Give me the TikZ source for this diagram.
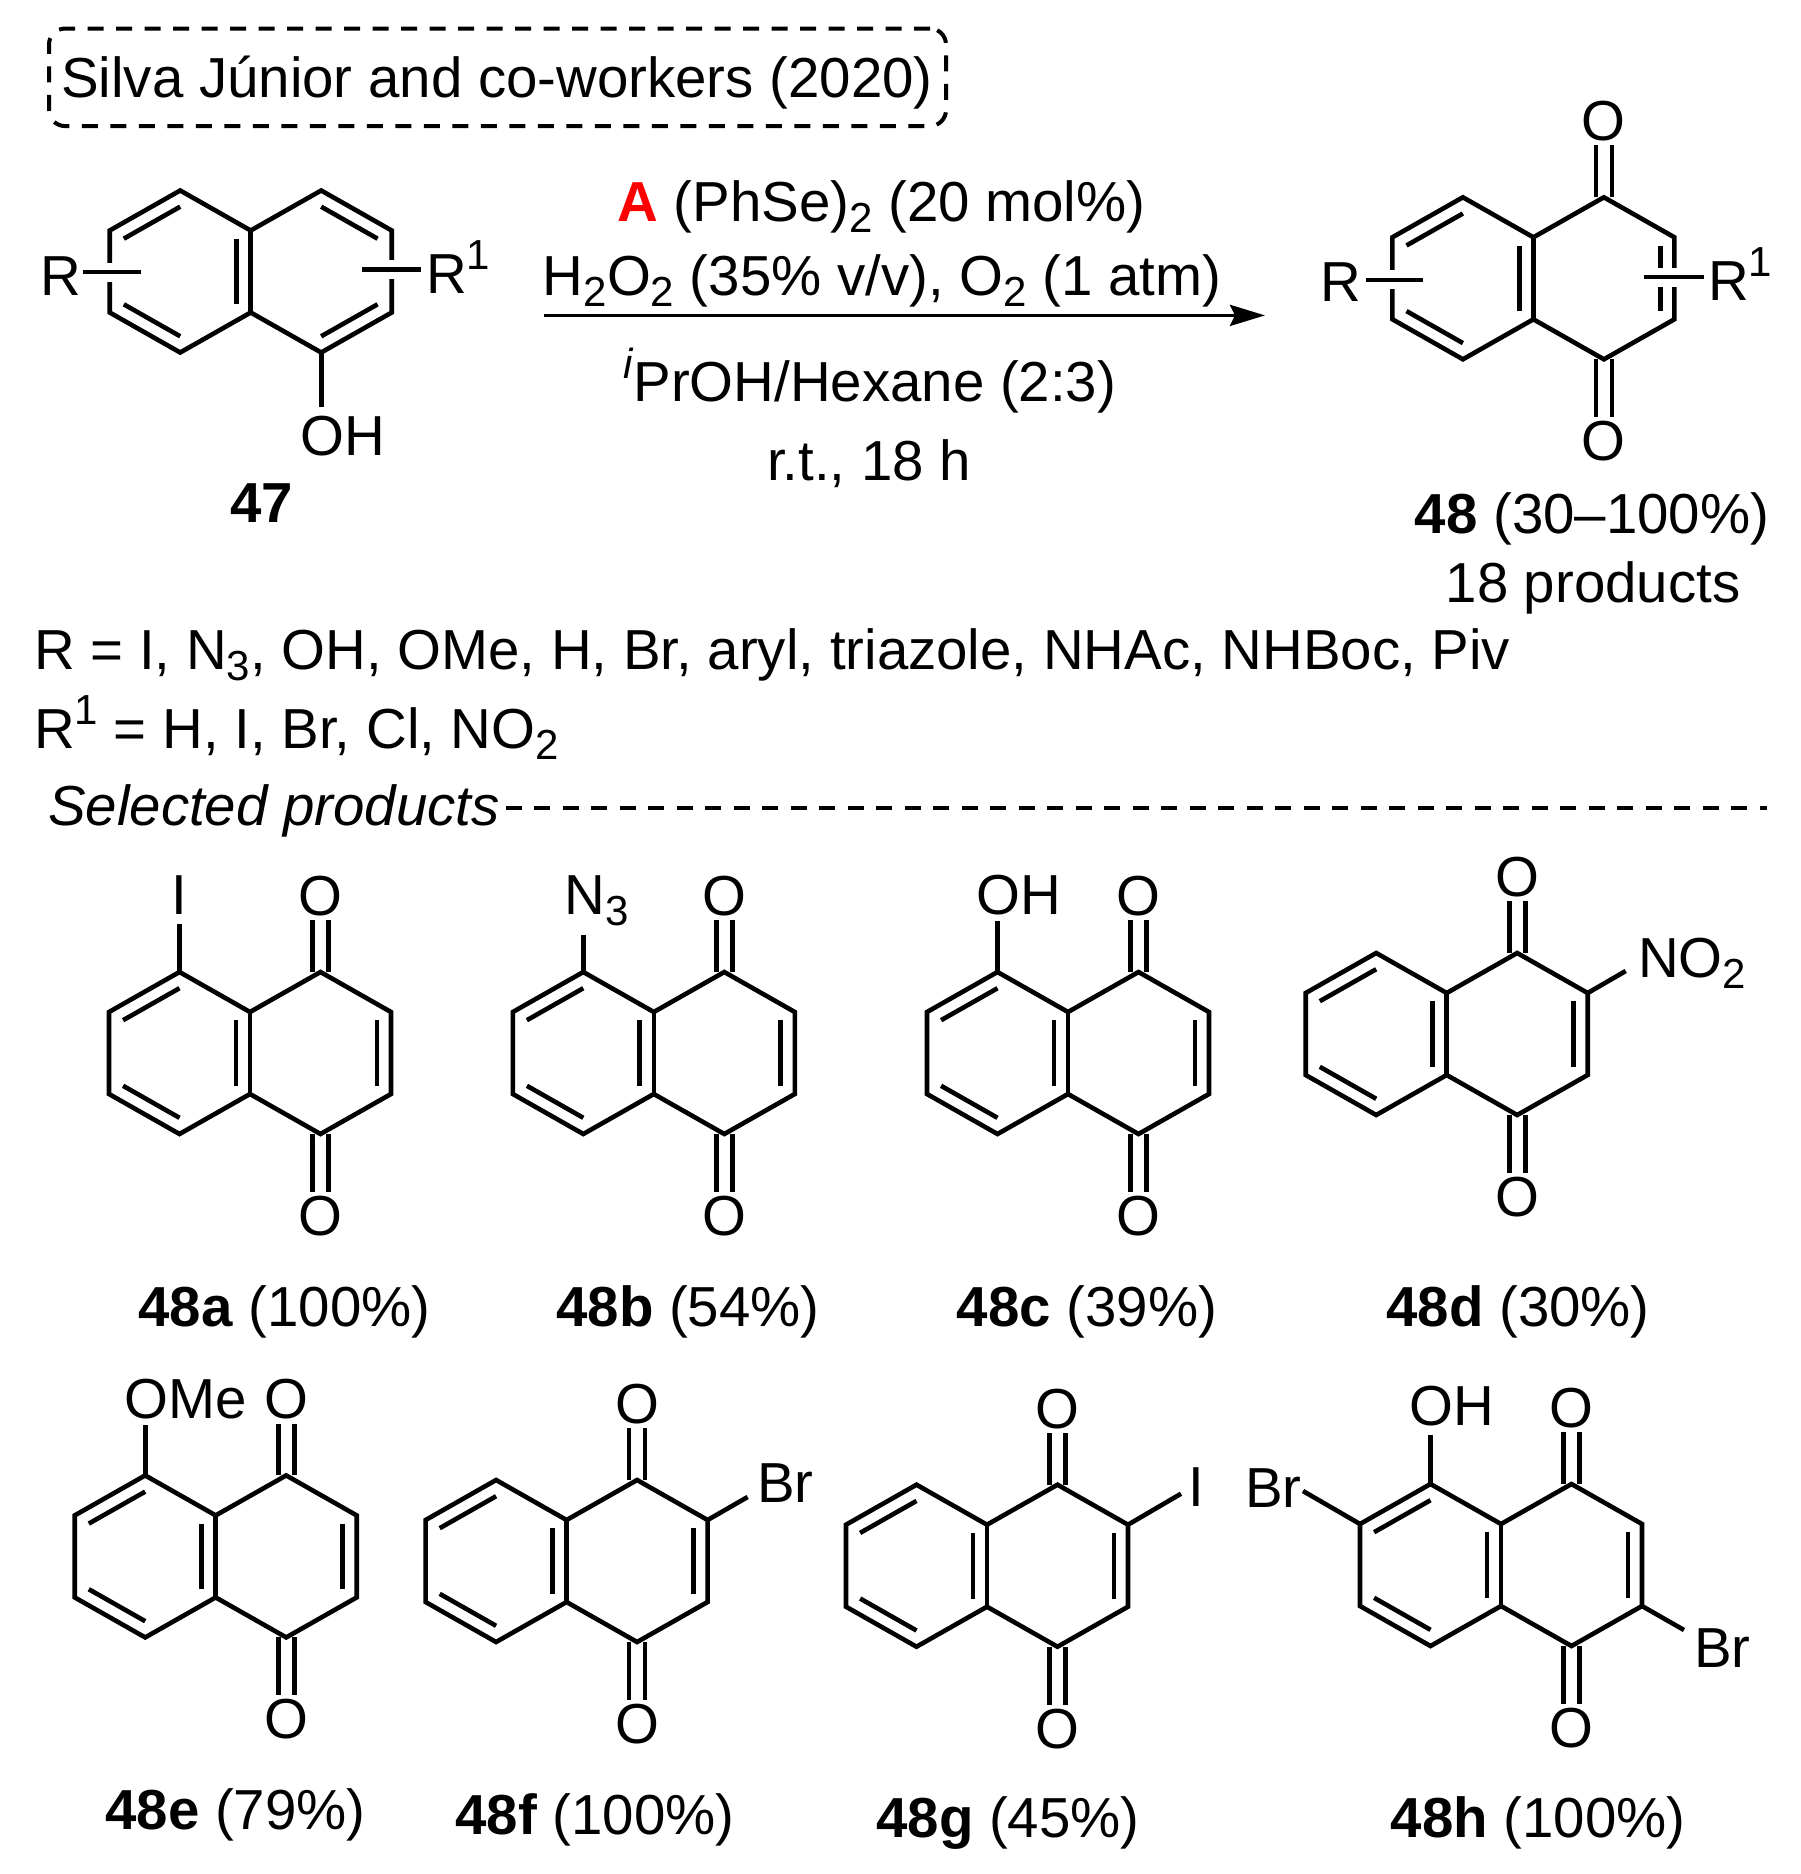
\documentclass[tikz,border=0pt]{standalone}
\usepackage{fontspec}
\setmainfont{Liberation Sans}
\usetikzlibrary{calc,arrows.meta}
\newcommand{\subs}[1]{\raisebox{-0.2em}{\fontsize{42}{42}\selectfont #1}}
\newcommand{\sups}[1]{\raisebox{0.41em}{\fontsize{42}{42}\selectfont #1}}
\tikzset{
  txt/.style={inner sep=0pt,font=\fontsize{56.4}{64}\selectfont},
  atom/.style={txt,inner sep=4pt},
  bond/.style={line width=4.6pt,line join=miter,line cap=butt},
  crossbond/.style={bond,preaction={draw,white,line width=19pt}},
  boxdash/.style={line width=4pt,dash pattern=on 16pt off 12.5pt},
  dashline/.style={line width=3.4pt,dash pattern=on 16pt off 12.5pt},
}
% naphthalene skeleton: #1 name, (#2,#3) centre of the fused bond
\newcommand{\naph}[3]{%
  \begin{scope}[shift={(#2,#3)}]
    \coordinate (#1-fT) at (0,-41);     \coordinate (#1-fB) at (0,41);
    \coordinate (#1-LT) at (-70.5,-81); \coordinate (#1-LU) at (-141,-41);
    \coordinate (#1-LD) at (-141,41);   \coordinate (#1-LB) at (-70.5,81);
    \coordinate (#1-RT) at (70.5,-81);  \coordinate (#1-RU) at (141,-41);
    \coordinate (#1-RD) at (141,41);    \coordinate (#1-RB) at (70.5,81);
    \coordinate (#1-Lc) at (-70.5,0);   \coordinate (#1-Rc) at (70.5,0);
  \end{scope}
  \draw[bond] (#1-fT) -- (#1-LT) -- (#1-LU) -- (#1-LD) -- (#1-LB) -- (#1-fB) -- (#1-RB) -- (#1-RD) -- (#1-RU) -- (#1-RT) -- cycle;
  \draw[bond] (#1-fT) -- (#1-fB);
  \inbond{#1-Lc}{#1-LT}{#1-LU}
  \inbond{#1-Lc}{#1-LD}{#1-LB}
  \inbond{#1-Lc}{#1-fT}{#1-fB}
}
\newcommand{\inbond}[3]{\draw[bond] ($(#2)!0.2!(#1)$) -- ($(#3)!0.2!(#1)$);}
% quinone oxygens and ring C=C
\newcommand{\quin}[1]{%
  \inbond{#1-Rc}{#1-RU}{#1-RD}
  \node[atom] (#1-O1) at ($(#1-Rc)+(0,-157)$) {O};
  \node[atom] (#1-O2) at ($(#1-Rc)+(0,163)$) {O};
  \draw[bond] ([xshift=-8pt]#1-RT) -- ([xshift=-8pt]#1-RT |- #1-O1.south);
  \draw[bond] ([xshift=8pt]#1-RT) -- ([xshift=8pt]#1-RT |- #1-O1.south);
  \draw[bond] ([xshift=-8pt]#1-RB) -- ([xshift=-8pt]#1-RB |- #1-O2.north);
  \draw[bond] ([xshift=8pt]#1-RB) -- ([xshift=8pt]#1-RB |- #1-O2.north);
}
% substituent bond from a ring atom to a named free end
\newcommand{\subbond}[4]{\coordinate (#2) at ($(#1)+(#3,#4)$); \draw[bond] (#1) -- (#2);}
\newcommand{\lab}[5]{\node[txt,anchor=base] (#1) at (#2,#3) {\textbf{#4} #5};}
\begin{document}
\begin{tikzpicture}[x=1pt,y=-1pt]
\useasboundingbox (0,0) rectangle (1801,1874);

% header box
\node[draw,boxdash,rounded corners=16pt,minimum width=897pt,minimum height=97.5pt] (tbox) at (497.5,77.3) {};
\node[txt,anchor=base] (title) at (497,97) {Silva Júnior and co-workers (2020)};

% 47
\naph{s}{250.7}{271.5}
\inbond{s-Rc}{s-RT}{s-RU}
\inbond{s-Rc}{s-RD}{s-RB}
\node[txt,anchor=base west] (sR) at (40,295.5) {R};
\node[txt,anchor=base west] (sRone) at (426,293) {R\sups{1}};
\coordinate (sa) at (83.4,272); \coordinate (sb) at (141,272);
\coordinate (sc) at (362,269.5); \coordinate (sd) at (421,269.5);
\draw[crossbond] (sa) -- (sb);
\draw[crossbond] (sc) -- (sd);
\node[txt,anchor=base west] (sOH) at (300,455) {OH};
\subbond{s-RB}{se}{0}{54}
\node[txt,anchor=base] (n47) at (262,522) {\textbf{47}};

% conditions
\node[txt,anchor=base] (c1) at (881.3,221) {\textcolor{red}{\textbf{A}} (PhSe)\subs{2} (20 mol\%)};
\node[txt,anchor=base] (c2) at (882,295) {H\subs{2}O\subs{2} (35\% v/v), O\subs{2} (1 atm)};
\node[txt,anchor=base] (c3) at (869.6,401.5) {\sups{\textit{i}}PrOH/Hexane (2:3)};
\node[txt,anchor=base] (c4) at (869,480) {r.t., 18 h};
\coordinate (ar1) at (544,315.4); \coordinate (ar2) at (1265,315.4);
\draw[line width=3.8pt,-{Stealth[length=35pt,width=21pt,inset=5pt]}] (ar1) -- (ar2);

% 48
\naph{p}{1533.4}{278.3}
\quin{p}
\node[txt,anchor=base west] (pR) at (1320,301.5) {R};
\node[txt,anchor=base west] (pRone) at (1708,300) {R\sups{1}};
\coordinate (pa) at (1366,279.8); \coordinate (pb) at (1422.6,279.8);
\coordinate (pc) at (1644,277); \coordinate (pd) at (1703.5,277);
\draw[crossbond] (pa) -- (pb);
\draw[crossbond] (pc) -- (pd);
\node[txt,anchor=base] (n48) at (1592,533) {\textbf{48} (30–100\%)};
\node[txt,anchor=base] (n48b) at (1593,602) {18 products};

% R definitions
\node[txt,anchor=base west] (def1) at (34,669) {R = I, N\subs{3}, OH, OMe, H, Br, aryl, triazole, NHAc, NHBoc, Piv};
\node[txt,anchor=base west] (def2) at (34,748) {R\sups{1} = H, I, Br, Cl, NO\subs{2}};
\node[txt,anchor=base west] (sel) at (48,825) {\textit{Selected products}};
\coordinate (dl) at (505.8,808); \coordinate (dr) at (1766.5,808);
\draw[dashline] (dl) -- (dr);

% 48a
\naph{a}{250}{1053}
\quin{a}
\node[txt,inner sep=10pt,anchor=base] (aI) at (179,914) {I};
\draw[bond] (a-LT) -- (a-LT |- aI.south);
\lab{la}{284.6}{1326}{48a}{(100\%)}

% 48b
\naph{b}{653.8}{1053}
\quin{b}
\node[txt,anchor=base west] (bN) at (564.5,914) {N\subs{3}};
\subbond{b-LT}{be}{0}{-37.5}
\lab{lb}{688}{1326}{48b}{(54\%)}

% 48c
\naph{c}{1068}{1053}
\quin{c}
\node[txt,anchor=base west] (cOH) at (976,914) {OH};
\subbond{c-LT}{ce}{0}{-51}
\lab{lc}{1087}{1326}{48c}{(39\%)}

% 48d
\naph{d}{1446.7}{1034}
\quin{d}
\node[txt,anchor=base west] (dN) at (1638,977.5) {NO\subs{2}};
\subbond{d-RU}{de}{38}{-22}
\lab{ld}{1518}{1326}{48d}{(30\%)}

% 48e
\naph{e}{215.7}{1556.4}
\quin{e}
\node[txt,anchor=base west] (eO) at (124,1418) {OMe};
\subbond{e-LT}{ee}{0}{-50}
\lab{le}{235.4}{1829.5}{48e}{(79\%)}

% 48f
\naph{f}{566.6}{1561}
\quin{f}
\node[txt,anchor=base west] (fB) at (757,1502.5) {Br};
\subbond{f-RU}{fe}{40}{-23}
\lab{lf}{595}{1834}{48f}{(100\%)}

% 48g
\naph{g}{987}{1565.7}
\quin{g}
\node[txt,anchor=base] (gI) at (1196.4,1506.5) {I};
\subbond{g-RU}{ge}{53}{-31}
\lab{lg}{1008}{1837}{48g}{(45\%)}

% 48h
\naph{h}{1501}{1565}
\quin{h}
\node[txt,anchor=base west] (hOH) at (1409,1425) {OH};
\subbond{h-LT}{hOe}{0}{-49}
\node[txt,anchor=base west] (hB1) at (1245,1507) {Br};
\subbond{h-LU}{hb1}{-57}{-33}
\node[txt,anchor=base west] (hB2) at (1694,1667) {Br};
\subbond{h-RD}{hb2}{42}{24}
\lab{lh}{1538}{1837}{48h}{(100\%)}
\end{tikzpicture}
\end{document}
